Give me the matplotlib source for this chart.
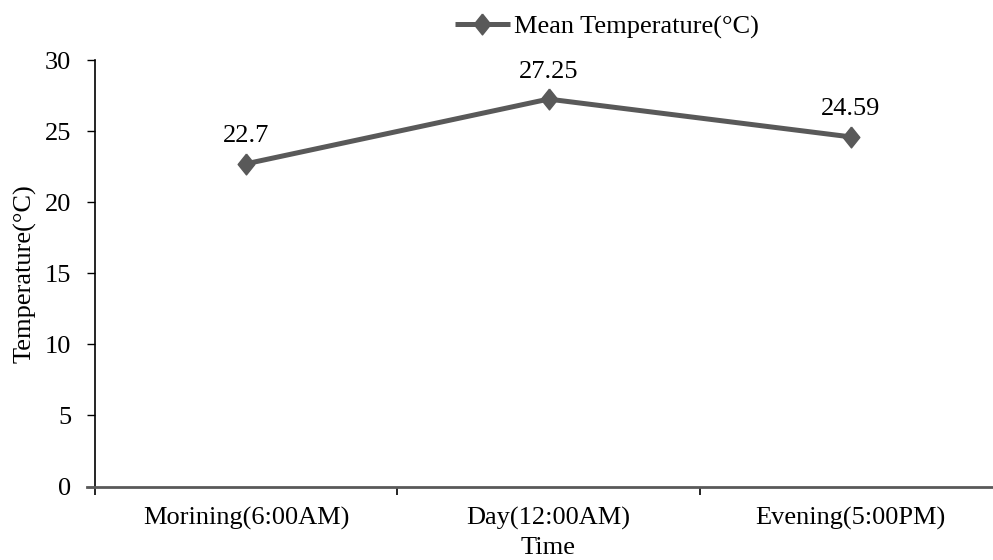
import matplotlib
matplotlib.use("Agg")
import matplotlib.pyplot as plt
import numpy as np

categories = ["Morining(6:00AM)", "Day(12:00AM)", "Evening(5:00PM)"]
mean_temp = [22.7, 27.25, 24.59]
value_labels = ["22.7", "27.25", "24.59"]
yticks = [0, 5, 10, 15, 20, 25, 30]

plt.rcParams["font.family"] = ["Liberation Serif", "DejaVu Serif"]
plt.rcParams["font.size"] = 19

W, H = 993, 560
fig = plt.figure(figsize=(W / 100, H / 100), dpi=100)
left, right, top, bottom = 95, 1002, 60, 486.5
ax = fig.add_axes([left / W, 1 - bottom / H, (right - left) / W, (bottom - top) / H])

line_color = "#595959"
diamond = [(0, 1), (0.8, 0), (0, -1), (-0.8, 0), (0, 1)]
x = np.arange(len(categories))
ax.plot(x, mean_temp, color=line_color, lw=3.6, marker=diamond, markersize=15,
        label="Mean Temperature(°C)", clip_on=False, solid_capstyle="butt")

for xi, yi, txt in zip(x, mean_temp, value_labels):
    ax.annotate(txt, (xi, yi), xytext=(0, 15.5), textcoords="offset points",
                ha="center", va="baseline", fontsize=19)

ax.set_xlim(-0.5, len(categories) - 0.5)
ax.set_ylim(0, 30)
ax.set_yticks(yticks)
ax.set_xticks(x)
ax.set_xticklabels(categories)
ax.tick_params(axis="x", length=0, pad=15)
ax.set_xticks(np.arange(-0.5, len(categories)), minor=True)
ax.tick_params(axis="x", which="minor", length=6, width=1.2, color="black", direction="out")
ax.tick_params(axis="y", length=6, width=1, direction="out", pad=11)

for s in ["top", "right"]:
    ax.spines[s].set_visible(False)
ax.spines["left"].set_linewidth(1.2)
ax.spines["left"].set_color("black")
ax.spines["bottom"].set_linewidth(2)
ax.spines["bottom"].set_color(line_color)
ax.spines["bottom"].set_bounds(-0.5 - 8 / 302.5, len(categories) - 0.5)

ax.set_xlabel("Time", labelpad=5)
ax.set_ylabel("Temperature(°C)", labelpad=6)

fig.legend(loc="center left", bbox_to_anchor=(455 / W, 1 - 26.7 / H), frameon=False,
           handlelength=2.08, handletextpad=0.15, borderpad=0, borderaxespad=0,
           fontsize=19)

fig.savefig("out.png", dpi=100)
